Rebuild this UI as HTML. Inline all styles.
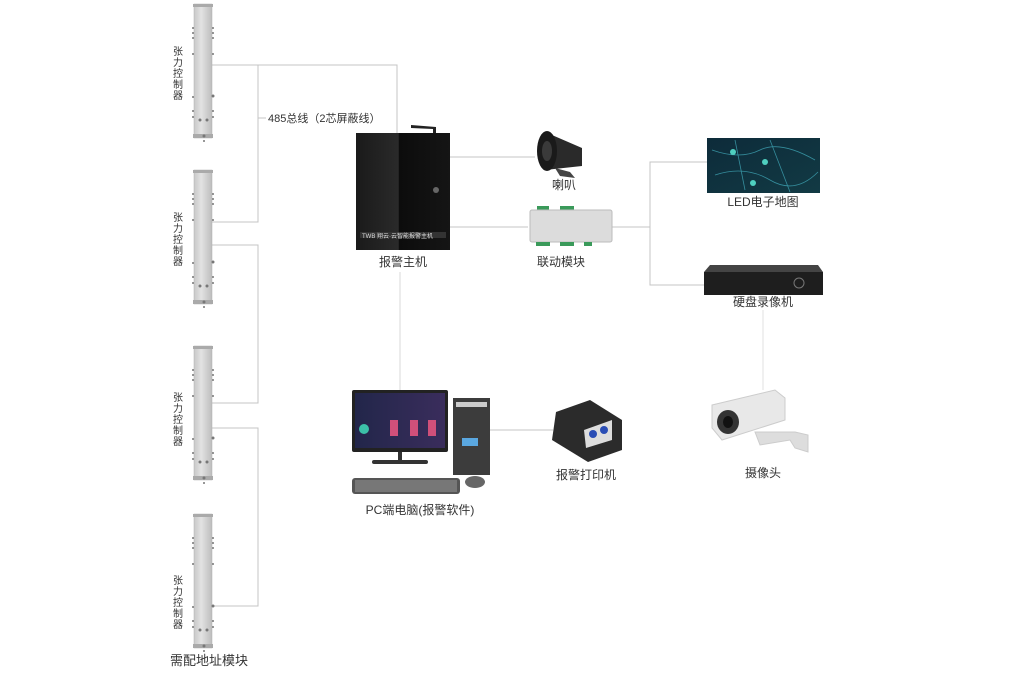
<!DOCTYPE html>
<html><head><meta charset="utf-8"><style>
html,body{margin:0;padding:0;background:#fff;}
svg{display:block}
text{font-family:"Liberation Sans","Noto Sans CJK SC",sans-serif;fill:#333;}
</style></head><body>
<svg width="1018" height="692" viewBox="0 0 1018 692" xmlns="http://www.w3.org/2000/svg">
<defs>
<linearGradient id="pole" x1="0" x2="1"><stop offset="0" stop-color="#c8c8c8"/><stop offset="0.4" stop-color="#e2e2e2"/><stop offset="1" stop-color="#bdbdbd"/></linearGradient>
<linearGradient id="box" x1="0" x2="1"><stop offset="0" stop-color="#1a1a1a"/><stop offset="0.45" stop-color="#2a2a2a"/><stop offset="0.46" stop-color="#0c0c0c"/><stop offset="1" stop-color="#151515"/></linearGradient>
<linearGradient id="scr" x1="0" x2="1" y1="0" y2="1"><stop offset="0" stop-color="#0d2b3a"/><stop offset="1" stop-color="#123a44"/></linearGradient>
<linearGradient id="mon" x1="0" x2="1"><stop offset="0" stop-color="#22264a"/><stop offset="1" stop-color="#3a2d5c"/></linearGradient>
<g id="polep">
<rect x="0" y="0" width="18" height="134" fill="url(#pole)" stroke="#b0b0b0" stroke-width="0.5"/>
<rect x="-1" y="0" width="20" height="3" fill="#aaa"/>
<rect x="-1" y="130" width="20" height="4" fill="#aaa"/>
<g fill="#777"><circle cx="-1" cy="24" r="1"/><circle cx="19" cy="24" r="1"/><circle cx="-1" cy="29" r="1"/><circle cx="19" cy="29" r="1"/><circle cx="-1" cy="34" r="1"/><circle cx="19" cy="34" r="1"/><circle cx="-1" cy="50" r="1"/><circle cx="19" cy="50" r="1"/><circle cx="-1" cy="93" r="1"/><circle cx="19" cy="92" r="1.5"/><circle cx="-1" cy="107" r="1"/><circle cx="19" cy="107" r="1"/><circle cx="-1" cy="113" r="1"/><circle cx="19" cy="113" r="1"/><circle cx="6" cy="116" r="1.5"/><circle cx="13" cy="116" r="1.5"/><circle cx="10" cy="132" r="1.5"/><circle cx="10" cy="137" r="1"/></g>
</g>
</defs>

<!-- connectors -->
<g stroke="#c4c4c4" stroke-width="1" fill="none">
<polyline points="212,65 397,65 397,133"/>
<polyline points="258,65 258,222 212,222"/>
<polyline points="212,245 258,245 258,403 212,403"/>
<polyline points="212,428 258,428 258,606 212,606"/>
<line x1="258" y1="118" x2="266" y2="118"/>
<line x1="450" y1="157" x2="535" y2="157"/>
<line x1="450" y1="227" x2="528" y2="227"/>
<line x1="612" y1="227" x2="650" y2="227"/>
<polyline points="707,162 650,162 650,285 705,285"/>
<line x1="400" y1="272" x2="400" y2="390" stroke="#d8d8d8"/>
<line x1="490" y1="430" x2="553" y2="430"/>
<line x1="763" y1="310" x2="763" y2="390" stroke="#e0e0e0"/>
</g>

<!-- poles -->
<use href="#polep" x="194" y="4"/>
<use href="#polep" x="194" y="170"/>
<use href="#polep" x="194" y="346"/>
<use href="#polep" x="194" y="514"/>
<g font-size="10" text-anchor="middle">
<text x="178" y="55">张</text><text x="178" y="66">力</text><text x="178" y="77">控</text><text x="178" y="88">制</text><text x="178" y="99">器</text>
<text x="178" y="221">张</text><text x="178" y="232">力</text><text x="178" y="243">控</text><text x="178" y="254">制</text><text x="178" y="265">器</text>
<text x="178" y="401">张</text><text x="178" y="412">力</text><text x="178" y="423">控</text><text x="178" y="434">制</text><text x="178" y="445">器</text>
<text x="178" y="584">张</text><text x="178" y="595">力</text><text x="178" y="606">控</text><text x="178" y="617">制</text><text x="178" y="628">器</text>
</g>
<text x="268" y="122" font-size="11">485总线（2芯屏蔽线）</text>
<text x="170" y="665" font-size="13">需配地址模块</text>

<!-- alarm host -->
<rect x="356" y="133" width="94" height="117" fill="url(#box)"/>
<path d="M411 125 L436 127 L436 133 L433 133 L433 129 L411 128Z" fill="#222"/>
<circle cx="436" cy="190" r="3" fill="#666"/>
<rect x="360" y="232" width="86" height="6" fill="#333"/>
<text x="362" y="238" font-size="6" fill="#ddd" style="fill:#ddd">TWB 翔云·云智能报警主机</text>
<text x="403" y="266" font-size="12" text-anchor="middle">报警主机</text>

<!-- horn -->
<path d="M545 132 L582 148 L582 166 L545 170 Z" fill="#2a2a2a"/>
<ellipse cx="547" cy="151" rx="10" ry="20" fill="#1a1a1a"/>
<ellipse cx="547" cy="151" rx="5" ry="10" fill="#3a3a3a"/>
<path d="M555 168 L570 172 L575 178 L560 176Z" fill="#444"/>
<text x="564" y="189" font-size="12" text-anchor="middle">喇叭</text>

<!-- linkage module -->
<rect x="537" y="206" width="12" height="4" fill="#3a9a5a"/><rect x="560" y="206" width="14" height="4" fill="#3a9a5a"/>
<rect x="530" y="210" width="82" height="32" rx="2" fill="#dcdcdc" stroke="#bbb"/>
<rect x="536" y="242" width="14" height="4" fill="#3a9a5a"/><rect x="560" y="242" width="14" height="4" fill="#3a9a5a"/><rect x="584" y="242" width="8" height="4" fill="#3a9a5a"/>
<text x="561" y="266" font-size="12" text-anchor="middle">联动模块</text>

<!-- LED map -->
<rect x="707" y="138" width="113" height="55" fill="url(#scr)"/>
<g stroke="#3fa5b5" stroke-width="0.8" fill="none" opacity="0.8">
<path d="M712 150 Q740 160 760 150 T815 160"/><path d="M715 175 Q745 165 770 180 T818 172"/><path d="M735 140 L745 190"/><path d="M770 140 L790 192"/>
</g>
<g fill="#4fd0c0"><circle cx="733" cy="152" r="3"/><circle cx="765" cy="162" r="3"/><circle cx="753" cy="183" r="3"/></g>
<text x="763" y="206" font-size="12" text-anchor="middle">LED电子地图</text>

<!-- DVR -->
<path d="M710 265 L818 265 L823 272 L704 272Z" fill="#444"/>
<rect x="704" y="272" width="119" height="23" fill="#1e1e1e"/>
<circle cx="799" cy="283" r="5" fill="none" stroke="#777"/>
<text x="763" y="306" font-size="12" text-anchor="middle">硬盘录像机</text>

<!-- camera -->
<path d="M712 405 L775 390 L785 398 L785 420 L722 440 L712 428Z" fill="#e8e8e8" stroke="#ccc"/>
<ellipse cx="728" cy="422" rx="11" ry="12" fill="#333"/>
<ellipse cx="728" cy="422" rx="5" ry="6" fill="#111"/>
<path d="M755 432 L760 445 L790 440 L795 448 L808 452 L808 435 L795 432Z" fill="#ddd" stroke="#ccc"/>
<text x="763" y="477" font-size="12" text-anchor="middle">摄像头</text>

<!-- PC -->
<rect x="352" y="390" width="96" height="62" rx="2" fill="#222"/>
<rect x="355" y="393" width="90" height="55" fill="url(#mon)"/>
<circle cx="364" cy="429" r="5" fill="#3cc0a8"/>
<rect x="390" y="420" width="8" height="16" fill="#d0507a"/><rect x="410" y="420" width="8" height="16" fill="#d0507a"/><rect x="428" y="420" width="8" height="16" fill="#d0507a"/>
<rect x="398" y="452" width="4" height="9" fill="#333"/>
<rect x="372" y="460" width="56" height="4" rx="2" fill="#333"/>
<rect x="453" y="398" width="37" height="77" fill="#3c3c3c"/>
<rect x="456" y="402" width="31" height="5" fill="#ccc"/>
<rect x="462" y="438" width="16" height="8" fill="#5aa7e0"/>
<rect x="352" y="478" width="108" height="16" rx="3" fill="#555"/>
<rect x="355" y="480" width="102" height="12" fill="#777"/>
<ellipse cx="475" cy="482" rx="10" ry="6" fill="#666"/>
<text x="420" y="514" font-size="12" text-anchor="middle">PC端电脑(报警软件)</text>

<!-- printer -->
<path d="M556 412 L590 400 L622 420 L622 450 L588 462 L552 440Z" fill="#2b2b2b"/>
<path d="M584 430 L612 420 L612 440 L586 448Z" fill="#ddd"/>
<circle cx="593" cy="434" r="4" fill="#2a4db5"/><circle cx="604" cy="430" r="4" fill="#2a4db5"/>
<text x="586" y="479" font-size="12" text-anchor="middle">报警打印机</text>
</svg>
</body></html>
